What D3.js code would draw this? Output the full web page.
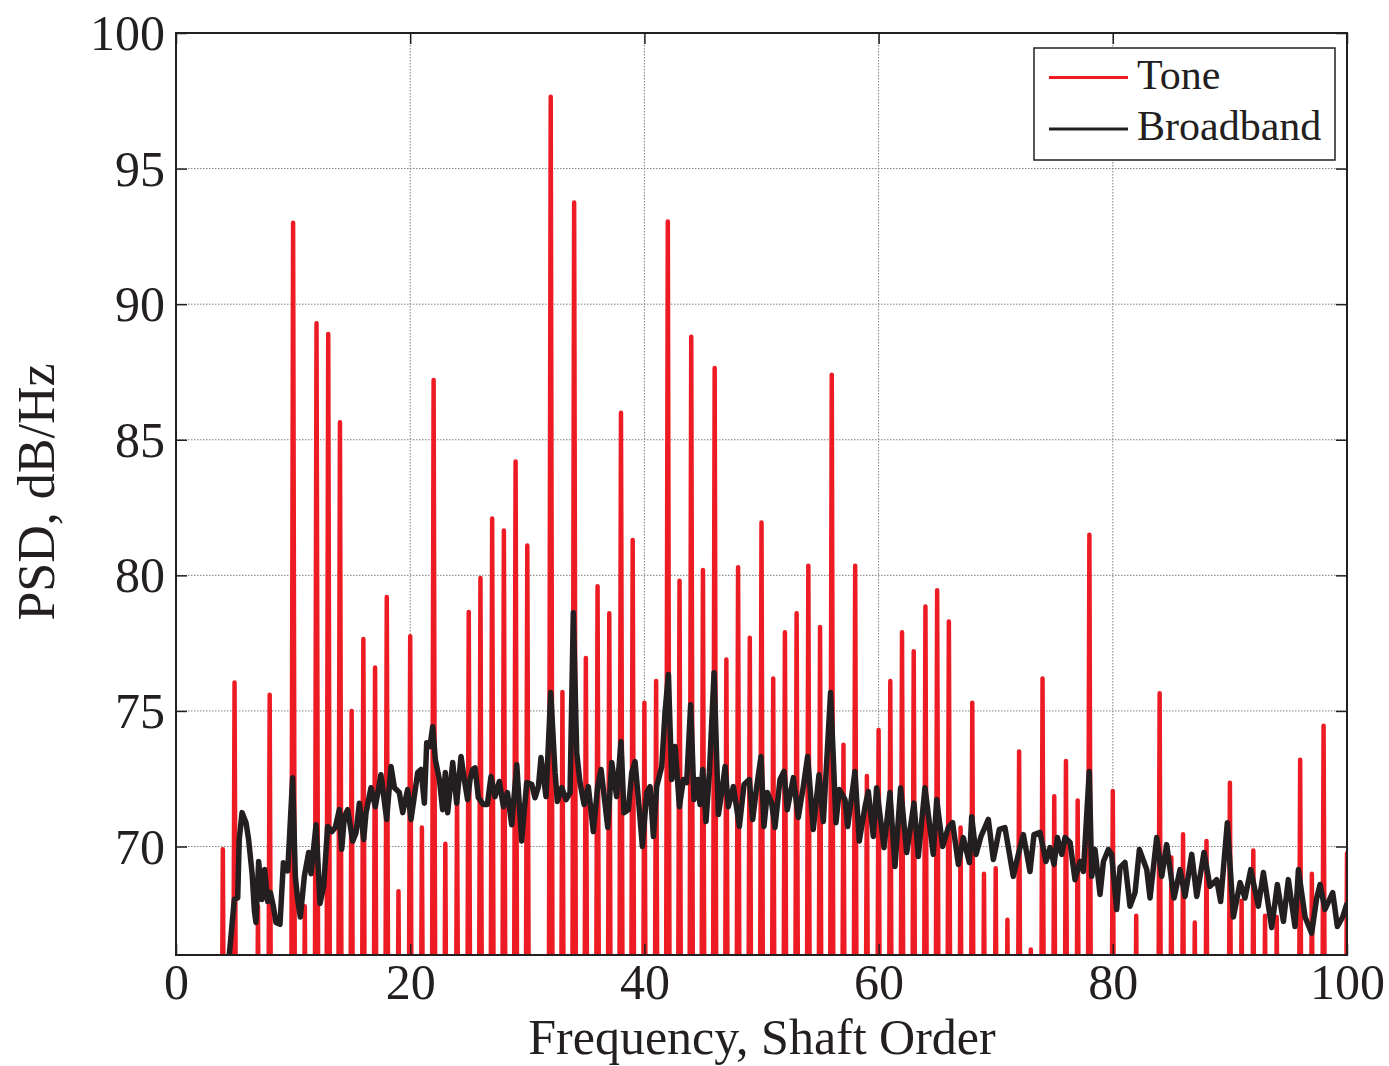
<!DOCTYPE html>
<html>
<head>
<meta charset="utf-8">
<script src="https://cdn.jsdelivr.net/npm/d3@7"></script>
<style>
  html, body { margin: 0; padding: 0; background: #fff; }
  svg { display: block; }
  text { font-family: "Liberation Serif", "Times New Roman", serif; fill: #231f20; }
</style>
</head>
<body>
<svg id="chart" width="1389" height="1066"></svg>
<script>
// ---------- DATA ----------
const xTicks = [0, 20, 40, 60, 80, 100];
const yTicks = [70, 75, 80, 85, 90, 95, 100];
const seriesNames = ["Tone", "Broadband"];

// Tone: spike peak levels (dB/Hz) at integer shaft orders
const toneOrders = [4,5,7,8,10,11,12,13,14,15,16,17,18,19,20,21,22,23,24,25,26,27,28,29,30,
  32,33,34,35,36,37,38,39,40,41,42,43,44,45,46,47,48,49,50,51,52,53,54,55,56,57,58,59,60,
  61,62,63,64,65,66,67,68,69,70,71,72,73,74,75,76,77,78,80,82,84,85,86,87,88,90,91,92,93,94,96,97,98,100];
const tonePeaks = [69.9,76.05,67.8,75.6,93.0,67.8,89.3,88.9,85.65,75.0,77.65,76.6,79.2,68.35,77.75,70.7,87.2,70.1,72.0,78.65,79.9,82.1,81.65,84.2,81.1,
  97.65,75.7,93.75,76.95,79.6,78.6,86.0,81.3,75.3,76.1,93.05,79.8,88.8,80.2,87.65,76.9,80.3,77.7,81.95,76.2,77.9,78.6,80.35,78.1,87.4,73.75,80.35,72.6,74.3,
  76.1,77.9,77.2,78.85,79.45,78.3,70.7,75.3,69.0,69.2,67.3,73.5,66.2,76.2,71.85,73.15,71.7,81.5,72.05,67.45,75.65,69.6,70.45,67.2,70.2,72.35,68.0,69.85,67.45,67.4,73.2,69.0,74.45,69.75];
const toneFloor = 50;       // level between harmonics (below visible range)
const toneHalfWidth = 0.22; // spike half-width in orders

// Broadband
const bbOrders = [4.3,4.55,4.98,5.27,5.4,5.64,5.98,6.2,6.5,6.7,6.83,7.06,7.34,7.57,7.83,8.06,8.31,8.54,8.88,9.17,9.54,9.96,10.19,10.39,10.62,10.96,
  11.33,11.53,11.96,12.3,12.61,12.95,13.32,13.6,13.95,14.15,14.38,14.66,15.09,15.37,15.66,16.03,16.23,16.65,17.02,17.5,17.99,18.36,18.65,19.07,19.36,19.78,
  20.07,20.35,20.64,20.92,21.21,21.41,21.69,21.92,22.15,22.49,22.77,23.0,23.2,23.63,23.97,24.34,24.62,24.9,25.11,25.33,25.54,25.82,26.25,26.59,26.9,27.24,
  27.61,27.96,28.3,28.67,29.1,29.52,29.95,30.38,30.66,30.95,31.17,31.6,32.0,32.37,32.57,32.94,33.31,33.65,33.93,34.22,34.5,34.85,35.21,35.64,36.01,36.3,
  36.87,37.21,37.63,38.0,38.26,38.63,38.92,39.2,39.49,39.83,40.2,40.48,40.77,41.05,41.48,41.76,42.05,42.33,42.62,42.99,43.33,43.61,43.95,44.24,44.55,44.75,
  44.98,45.26,45.55,45.95,46.32,46.6,46.89,47.17,47.6,48.11,48.51,48.96,49.25,49.59,49.96,50.21,50.5,50.87,51.15,51.58,51.92,52.2,52.72,53.14,53.57,53.94,
  54.42,54.91,55.28,55.9,56.36,56.65,57.13,57.36,57.98,58.35,58.84,59.12,59.55,59.83,60.46,60.97,61.4,61.88,62.4,63.02,63.39,63.96,64.67,64.96,65.47,65.95,
  66.32,66.81,67.23,67.75,67.95,68.32,68.74,69.37,69.8,70.31,70.79,71.5,71.93,72.36,72.93,73.27,73.78,74.29,74.64,74.98,75.27,75.64,75.92,76.35,76.77,77.2,
  77.49,77.99,78.2,78.48,78.91,79.2,79.62,79.9,80.33,80.62,81.04,81.47,81.9,82.27,82.9,83.18,83.75,84.18,84.6,85.23,85.74,86.17,86.74,87.17,87.79,88.3,
  88.87,89.21,89.78,90.3,90.87,91.29,91.78,92.43,92.86,93.57,94.05,94.57,94.99,95.56,95.85,96.42,96.98,97.41,97.7,98.12,98.78,99.18,99.63,99.97];
const bbValues = [64,66.0,68.05,68.1,70.26,71.25,70.88,70.26,69.0,67.6,67.2,69.45,68.05,69.15,67.97,68.3,67.8,67.2,67.13,69.4,69.1,72.54,68.9,68.05,67.4,68.9,
  69.78,69.0,70.8,67.9,68.53,70.74,70.55,70.7,71.36,69.9,71.1,71.36,70.2,70.5,71.6,70.26,71.25,72.17,71.47,72.65,71.0,72.95,72.17,71.99,71.25,72.1,
  71.0,71.84,72.73,72.84,71.6,73.83,73.69,74.42,73.2,72.47,71.36,72.73,71.25,73.1,71.6,73.32,72.47,71.73,72.47,72.84,72.9,71.8,71.55,71.55,72.58,71.84,
  72.4,71.47,71.99,70.8,73.02,70.2,72.36,72.29,71.8,72.21,73.28,71.84,75.68,72.73,71.66,72.17,71.73,71.99,78.62,73.46,72.36,71.55,72.21,70.55,72.21,72.84,
  70.7,73.1,71.84,73.87,71.25,71.36,72.73,73.13,71.73,70.0,71.99,72.21,70.37,72.21,72.95,74.94,76.34,72.47,73.69,71.47,72.47,72.36,75.23,71.73,72.47,71.55,
  72.84,70.92,72.73,76.41,71.18,71.99,72.95,71.47,72.21,70.74,72.29,72.47,71.0,72.21,73.32,70.74,71.99,71.6,70.7,72.47,72.77,71.36,72.54,71.07,72.21,73.32,
  70.63,72.65,70.92,75.68,70.88,72.1,71.73,70.74,72.77,70.2,71.47,72.03,70.37,72.17,69.96,71.99,69.26,72.17,69.78,71.6,69.63,72.17,69.71,71.73,70.0,70.7,
  70.88,69.34,70.33,69.41,71.1,69.71,70.37,71.0,69.52,70.63,70.7,68.9,69.71,70.44,69.08,70.44,70.52,69.45,69.96,69.34,70.33,69.71,70.33,70.15,68.78,69.45,
  69.08,72.77,68.9,69.89,68.23,69.45,69.89,69.71,67.68,69.23,69.41,67.8,68.3,69.89,69.15,68.1,70.33,68.9,70.07,68.1,69.15,68.16,69.71,68.16,69.78,68.53,
  68.78,67.97,70.88,67.4,68.67,68.1,69.15,67.8,69.04,67.01,68.6,67.24,68.78,67.05,69.15,67.4,66.8,68.1,68.6,67.68,68.3,67.05,67.4,67.86];

// ---------- CHART ----------
const svg = d3.select("#chart");
const L = 176, R = 1347, T = 33, B = 955;
const x = d3.scaleLinear().domain([0, 100]).range([L, R]);
const y = d3.scaleLinear().domain([66, 100]).range([B, T]);
const red = "#ed1c24", black = "#231f20";

svg.append("defs").append("clipPath").attr("id", "plotclip")
  .append("rect").attr("x", L).attr("y", T).attr("width", R - L).attr("height", B - T);

// grid
const grid = svg.append("g").attr("stroke", "#808080").attr("stroke-width", 1).attr("stroke-dasharray", "1.5,1.5");
grid.selectAll("line.gx").data(xTicks.filter(d => d > 0 && d < 100)).join("line")
  .attr("x1", d => x(d)).attr("x2", d => x(d)).attr("y1", T).attr("y2", B);
grid.selectAll("line.gy").data(yTicks.filter(d => d < 100)).join("line")
  .attr("y1", d => y(d)).attr("y2", d => y(d)).attr("x1", L).attr("x2", R);

// tone path
const tonePts = [];
tonePts.push([toneOrders[0] - 1, toneFloor]);
toneOrders.forEach((o, i) => {
  tonePts.push([o - toneHalfWidth, toneFloor]);
  tonePts.push([o, tonePeaks[i]]);
  tonePts.push([o + toneHalfWidth, toneFloor]);
});
tonePts.push([101, toneFloor]);

const line = d3.line().x(d => x(d[0])).y(d => y(d[1]));
const plot = svg.append("g").attr("clip-path", "url(#plotclip)");
plot.append("path").datum(tonePts).attr("d", line)
  .attr("fill", "none").attr("stroke", red).attr("stroke-width", 4.5)
  .attr("stroke-linejoin", "round").attr("stroke-linecap", "round");

plot.append("path").datum(bbOrders.map((o, i) => [o, bbValues[i]])).attr("d", line)
  .attr("fill", "none").attr("stroke", black).attr("stroke-width", 5.5)
  .attr("stroke-linejoin", "round").attr("stroke-linecap", "round");

// axes
const fs = 50;
const ax = svg.append("g");
const gB = ax.append("g").attr("transform", `translate(0,${B})`)
  .call(d3.axisBottom(x).tickValues(xTicks).tickSize(-11).tickPadding(8).tickFormat(d3.format("d")));
const gL = ax.append("g").attr("transform", `translate(${L},0)`)
  .call(d3.axisLeft(y).tickValues(yTicks).tickSize(-11).tickPadding(11).tickFormat(d3.format("d")));
const gTop = ax.append("g").attr("transform", `translate(0,${T})`)
  .call(d3.axisTop(x).tickValues(xTicks).tickSize(-11).tickFormat(""));
const gR = ax.append("g").attr("transform", `translate(${R},0)`)
  .call(d3.axisRight(y).tickValues(yTicks).tickSize(-11).tickFormat(""));
[gB, gL, gTop, gR].forEach(g => {
  g.select(".domain").remove();
  g.selectAll("line").attr("stroke", "#231f20").attr("stroke-width", 1.5);
  g.selectAll("text").attr("font-size", fs).attr("fill", "#231f20")
    .attr("font-family", "'Liberation Serif', 'Times New Roman', serif");
});
gL.selectAll("text").attr("dy", "0.33em");

// frame
svg.append("rect").attr("x", L).attr("y", T).attr("width", R - L).attr("height", B - T)
  .attr("fill", "none").attr("stroke", "#231f20").attr("stroke-width", 2);

// axis labels
svg.append("text").attr("x", (L + R) / 2 + 0.5).attr("y", 1054).attr("text-anchor", "middle")
  .attr("font-size", 50).text("Frequency, Shaft Order");
svg.append("text").attr("transform", "translate(54,492) rotate(-90)").attr("text-anchor", "middle")
  .attr("font-size", 52).text("PSD, dB/Hz");

// legend
const lg = svg.append("g");
lg.append("rect").attr("x", 1034).attr("y", 48).attr("width", 301).attr("height", 112)
  .attr("fill", "#fff").attr("stroke", "#231f20").attr("stroke-width", 1.5);
const legendItems = [{ name: seriesNames[0], color: red, w: 3, ly: 77.5, ty: 88.5 },
                     { name: seriesNames[1], color: black, w: 3, ly: 129, ty: 140 }];
legendItems.forEach(it => {
  lg.append("line").attr("x1", 1049).attr("x2", 1128).attr("y1", it.ly).attr("y2", it.ly)
    .attr("stroke", it.color).attr("stroke-width", it.w);
  lg.append("text").attr("x", 1137).attr("y", it.ty).attr("font-size", 42).text(it.name);
});
</script>
</body>
</html>
